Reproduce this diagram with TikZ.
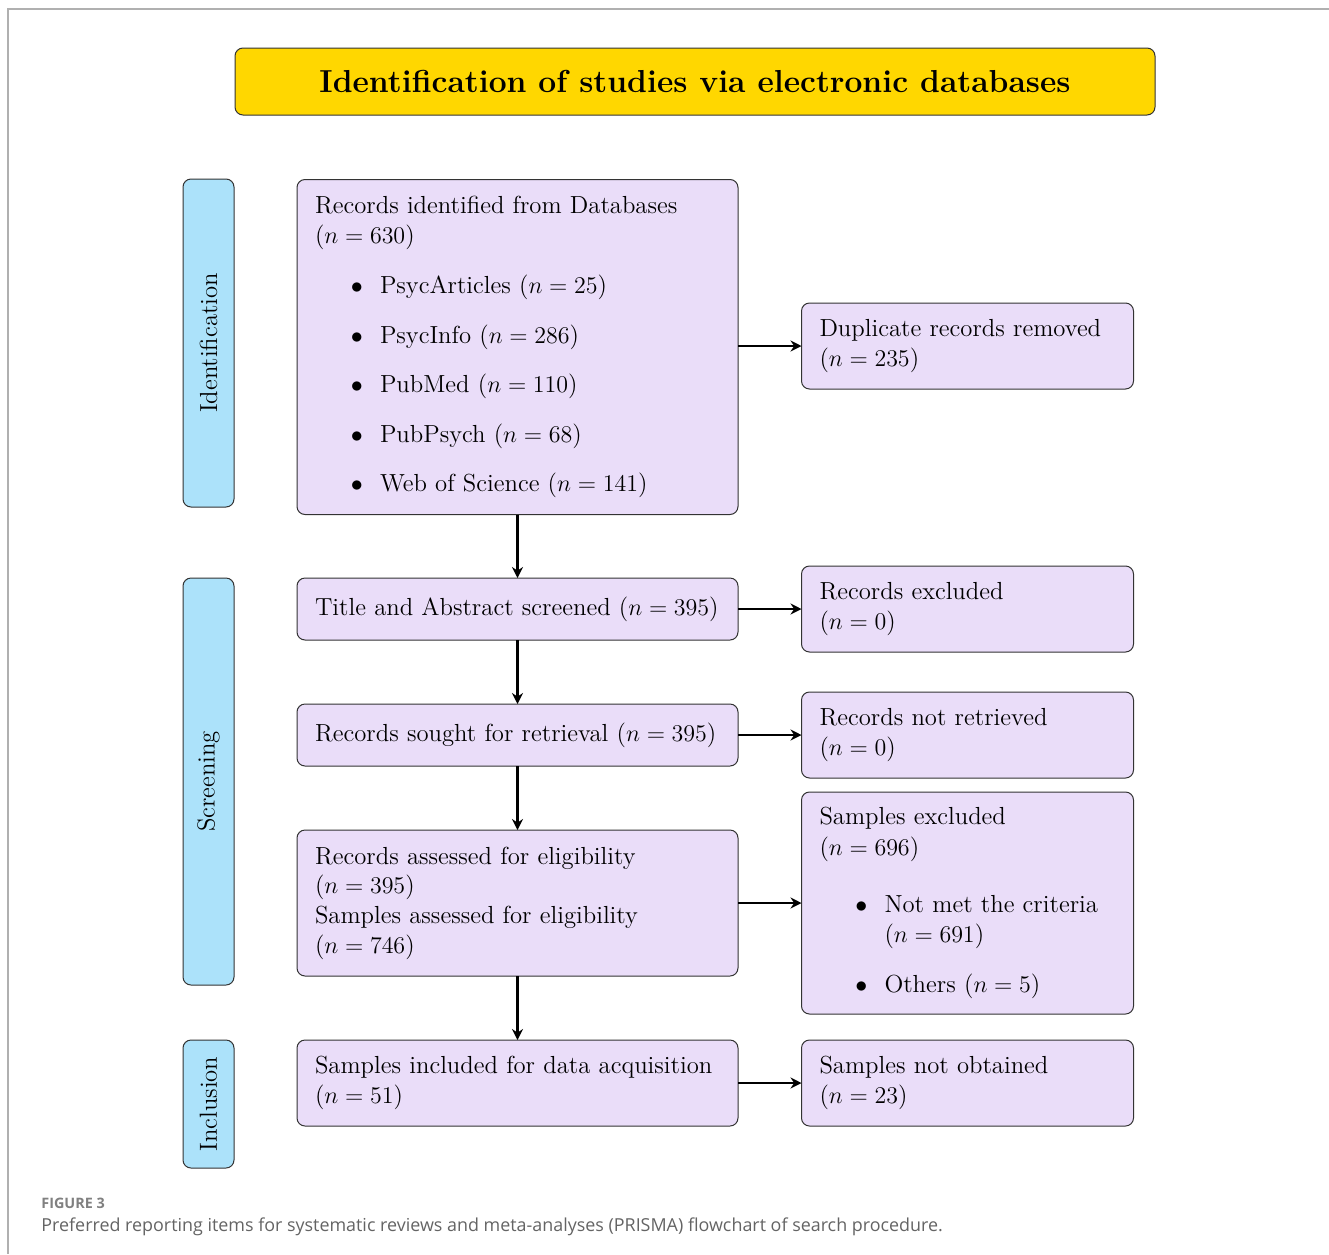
\documentclass[tikz,border=0pt]{standalone}
\usepackage{fontspec}
\newfontfamily\capfont{Open Sans}
\usetikzlibrary{arrows.meta}
\definecolor{lav}{RGB}{234,221,249}
\definecolor{sky}{RGB}{172,226,250}
\definecolor{gold}{RGB}{255,215,0}
\definecolor{frame}{RGB}{176,176,176}
\definecolor{capgray}{RGB}{100,100,100}
\newcommand{\bul}{\hspace*{17.9pt}\makebox[14.6pt][l]{$\bullet$}}
\newcommand{\bulind}{\hspace*{32.5pt}}
\tikzset{
  txt/.style={font=\fontsize{12.35}{15.3}\selectfont},
  box/.style={txt, draw=black!80, line width=0.5pt, rounded corners=4pt, fill=lav,
    align=left, inner xsep=9pt, inner ysep=0pt, outer sep=0pt},
  mainbox/.style={box, text width=202.5pt},
  sidebox/.style={box, text width=148pt},
  stage/.style={txt, draw=black!80, line width=0.5pt, rounded corners=4pt, fill=sky,
    rotate=90, minimum height=25.5pt, inner sep=0pt, outer sep=0pt},
  arr/.style={line width=1.25pt, -{Stealth[length=5.5pt,width=5.5pt,inset=1.8pt]}},
}
\begin{document}
\begin{tikzpicture}[x=0.5pt,y=-0.5pt]
\useasboundingbox (0,0) rectangle (1329,1254);
\draw[frame, line width=0.8pt] (1329,9) -- (8,9) -- (8,1254);

\node[draw=black!80, line width=0.5pt, rounded corners=4pt, fill=gold,
  minimum width=460pt, minimum height=33.5pt, inner sep=0pt, outer sep=0pt,
  font=\fontsize{15.9}{19}\selectfont\bfseries] (title) at (695,81.5)
  {Identification of studies via electronic databases};

\node[stage, minimum width=164pt] (s1) at (208.5,343) {Identification};
\node[stage, minimum width=203.5pt] (s2) at (208.5,781.5) {Screening};
\node[stage, minimum width=64pt] (s3) at (208.5,1104) {Inclusion};

\node[mainbox, minimum height=167.5pt] (ident) at (517.5,347)
  {Records identified from Databases\\($n=630$)\\[9.5pt]
   \bul PsycArticles ($n=25$)\\[9.5pt]
   \bul PsycInfo ($n=286$)\\[9.5pt]
   \bul PubMed ($n=110$)\\[9.5pt]
   \bul PubPsych ($n=68$)\\[9.5pt]
   \bul Web of Science ($n=141$)};
\node[mainbox, minimum height=31pt] (tas) at (517.5,609)
  {Title and Abstract screened ($n=395$)};
\node[mainbox, minimum height=31pt] (sought) at (517.5,735)
  {Records sought for retrieval ($n=395$)};
\node[mainbox, minimum height=73pt, font=\fontsize{12.35}{14.8}\selectfont] (assess) at (517.5,903)
  {Records assessed for eligibility\\($n=395$)\\Samples assessed for eligibility\\($n=746$)};
\node[mainbox, minimum height=43pt] (incl) at (517.5,1083)
  {Samples included for data acquisition\\($n=51$)};

\node[sidebox, minimum height=43pt] (dup) at (967.5,346)
  {Duplicate records removed\\($n=235$)};
\node[sidebox, minimum height=43pt] (excl) at (967.5,609)
  {Records excluded\\($n=0$)};
\node[sidebox, minimum height=43pt] (notret) at (967.5,735)
  {Records not retrieved\\($n=0$)};
\node[sidebox, minimum height=111pt] (sampex) at (967.5,903)
  {Samples excluded\\($n=696$)\\[13pt]
   \bul Not met the criteria\\
   \bulind ($n=691$)\\[9.5pt]
   \bul Others ($n=5$)};
\node[sidebox, minimum height=43pt] (notobt) at (967.5,1083)
  {Samples not obtained\\($n=23$)};

\draw[arr] (ident.south) -- (tas.north);
\draw[arr] (tas.south) -- (sought.north);
\draw[arr] (sought.south) -- (assess.north);
\draw[arr] (assess.south) -- (incl.north);
\draw[arr] (ident.east |- dup.west) -- (dup.west);
\draw[arr] (tas.east) -- (excl.west);
\draw[arr] (sought.east) -- (notret.west);
\draw[arr] (assess.east) -- (sampex.west);
\draw[arr] (incl.east) -- (notobt.west);

\node[anchor=base west, inner sep=0pt, text=black!50,
  font=\capfont\fontsize{7.2}{8}\selectfont\bfseries] (fig) at (41,1208) {FIGURE 3};
\node[anchor=base west, inner sep=0pt, text=capgray,
  font=\capfont\fontsize{8.95}{10}\selectfont] (cap) at (41,1231)
  {Preferred reporting items for systematic reviews and meta-analyses (PRISMA) flowchart of search procedure.};
\end{tikzpicture}
\end{document}
